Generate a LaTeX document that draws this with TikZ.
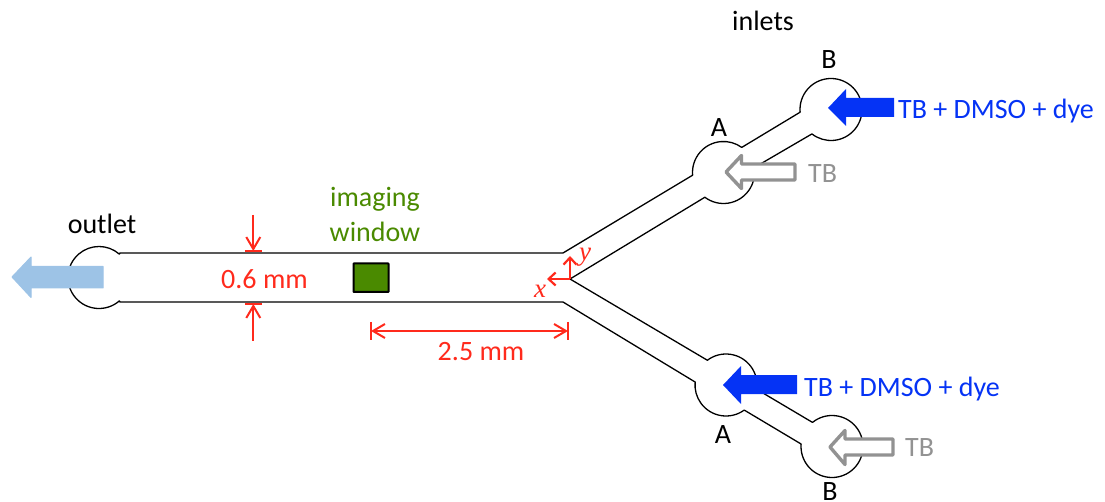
\documentclass[tikz,border=0pt]{standalone}
\usepackage{fontspec}
\setmainfont{Carlito}
\newfontfamily\axisfont{Liberation Serif}
\usetikzlibrary{arrows.meta,calc}
\definecolor{dimred}{HTML}{FF2A1C}
\definecolor{flowblue}{HTML}{0533F5}
\definecolor{flowgray}{HTML}{929292}
\definecolor{paleblue}{HTML}{9DC3E6}
\definecolor{wingreen}{HTML}{4A8A00}
\tikzset{
  lbl/.style={anchor=base,inner sep=0pt,font=\fontsize{28}{32}\selectfont},
  lbll/.style={lbl,anchor=base west},
  channel/.style={draw=black,line width=1.3pt,line join=round},
  blueflow/.style={fill=flowblue,draw=none},
  grayflow/.style={fill=white,draw=flowgray,line width=3.4pt,line join=round},
  paleflow/.style={fill=paleblue,draw=paleblue,line width=1pt,line join=round},
  dimline/.style={draw=dimred,line width=2pt,-{Straight Barb[length=12pt,width=14pt,line width=2pt]}},
  dimtick/.style={draw=dimred,line width=2.2pt},
  axisline/.style={draw=dimred,line width=2.2pt,-{Straight Barb[length=7pt,width=13pt,line width=2.2pt]}},
  axislbl/.style={anchor=base,inner sep=0pt,text=dimred,font=\fontsize{27}{28}\selectfont\axisfont\itshape},
}
\begin{document}
\begin{tikzpicture}[x=1pt,y=1pt,yscale=-1]
\useasboundingbox (0,0) rectangle (1105,502);
% channel outline
\coordinate (outC) at (99,277.5);
\coordinate (aupC) at (723.5,172.5);
\coordinate (bupC) at (831,109.5);
\coordinate (aloC) at (726,385);
\coordinate (bloC) at (832,446.5);
\path[channel]
  (120,253) -- (563,253) -- ($(aupC)+(175:31pt)$)
  arc[start angle=175,end angle=306,radius=31pt]
  -- ($(bupC)+(175:31pt)$)
  arc[start angle=175,end angle=488,radius=31pt]
  -- ($(aupC)+(-9:31pt)$)
  arc[start angle=-9,end angle=127,radius=31pt]
  -- (570,279)
  -- ($(aloC)+(233:31pt)$)
  arc[start angle=233,end angle=368,radius=31pt]
  -- ($(bloC)+(231:31pt)$)
  arc[start angle=231,end angle=544.6,radius=31pt]
  -- ($(aloC)+(54:31pt)$)
  arc[start angle=54,end angle=185.5,radius=31pt]
  -- (563,302) -- (120,302)
  -- ($(outC)+(49:31pt)$)
  arc[start angle=49,end angle=311,radius=31pt]
  -- cycle;
% flow arrows
\path[paleflow] (12,277) -- (31,257) -- (31,266.5) -- (103,266.5) -- (103,288) -- (31,288) -- (31,297.5) -- cycle;
\path[blueflow] (828,108) -- (846,89) -- (846,98) -- (894,98) -- (894,117) -- (846,117) -- (846,126) -- cycle;
\path[blueflow] (723,385) -- (741,366) -- (741,375) -- (797,375) -- (797,394) -- (741,394) -- (741,404) -- cycle;
\path[grayflow] (726,172) -- (741.5,155.5) -- (741.5,164) -- (795,164) -- (795,180) -- (741.5,180) -- (741.5,188.5) -- cycle;
\path[grayflow] (830,447) -- (845,430.5) -- (845,439) -- (893,439) -- (893,455) -- (845,455) -- (845,464.5) -- cycle;
% imaging window
\node[draw=black,line width=2pt,fill=wingreen,minimum width=35pt,minimum height=28.5pt,inner sep=0pt,rounded corners=0.5pt] (win) at (371,277.7) {};
% dimensions
\coordinate (wTopS) at (253.3,215);
\coordinate (wTopE) at (253.3,251);
\coordinate (wBotS) at (253.3,341);
\coordinate (wBotE) at (253.3,304);
\coordinate (lenL) at (371,331);
\coordinate (lenR) at (568,331);
\draw[dimline] (wTopS) -- (wTopE);
\draw[dimline] (wBotS) -- (wBotE);
\draw[dimtick] ($(wTopE)+(-8.5,0)$) -- ($(wTopE)+(8.5,0)$);
\draw[dimtick] ($(wBotE)+(-8.5,0)$) -- ($(wBotE)+(8.5,0)$);
\draw[dimline,{Straight Barb[length=12pt,width=14pt,line width=2pt]}-{Straight Barb[length=12pt,width=14pt,line width=2pt]}] (lenL) -- (lenR);
\draw[dimtick,line width=1.8pt] ($(lenL)+(0,-9)$) -- ($(lenL)+(0,9)$);
\draw[dimtick,line width=1.8pt] ($(lenR)+(0,-9)$) -- ($(lenR)+(0,9)$);
% axes
\coordinate (orig) at (570,279);
\coordinate (yEnd) at (570,256);
\coordinate (xEnd) at (547,279);
\draw[axisline] (orig) -- (yEnd);
\draw[axisline] (orig) -- (xEnd);
\node[axislbl] (ylab) at (585,261) {y};
\node[axislbl] (xlab) at (540,298) {x};
% labels
\node[lbl] (outlet) at (102,234) {outlet};
\node[lbl,text=wingreen] (imaging) at (375,207) {imaging};
\node[lbl,text=wingreen] (window) at (375,241.5) {window};
\node[lbl,text=dimred] (wval) at (264.5,289) {0.6 mm};
\node[lbl,text=dimred] (lval) at (481,360) {2.5 mm};
\node[lbl] (inlets) at (763,31) {inlets};
\node[lbl] (bup) at (829,68.3) {B};
\node[lbl] (aup) at (719,136.7) {A};
\node[lbl] (alo) at (723,443) {A};
\node[lbl] (blo) at (830,500) {B};
\node[lbll,text=flowblue] (tdu) at (898,118.3) {TB + DMSO + dye};
\node[lbll,text=flowblue] (tdl) at (804,396) {TB + DMSO + dye};
\node[lbll,text=flowgray] (tbu) at (808,183) {TB};
\node[lbll,text=flowgray] (tbl) at (905,456.7) {TB};
\end{tikzpicture}
\end{document}
